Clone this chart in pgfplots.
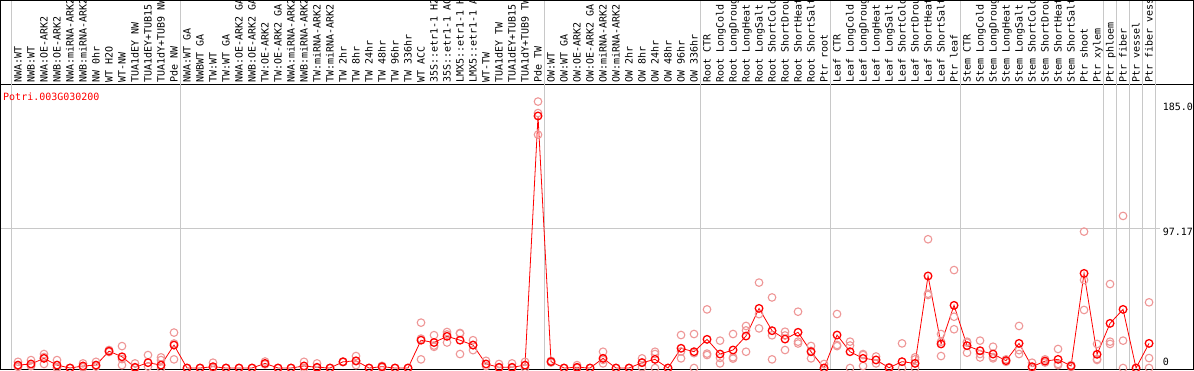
\documentclass[border=0pt]{standalone}
\usepackage{fontspec}
\setmainfont{Liberation Sans}
\setmonofont{DejaVu Sans Mono}
\usepackage{pgfplots}
\pgfplotsset{compat=1.18}
\usepackage{pgfplotstable}
\definecolor{repcol}{RGB}{238,150,150}
\definecolor{gridcol}{RGB}{200,200,200}
\newcommand{\lab}{\ttfamily\fontsize{10}{10}\selectfont}

\pgfplotstableread{
x y
0 2
1 2.8
2 6.7
3 2
4 0
5 1.4
6 2
7 11.7
8 7.8
9 0.5
10 3.7
11 2
12 15.9
13 0
14 0
15 0.9
16 0
17 0
18 0
19 3.2
20 0
21 0
22 1.4
23 0.5
24 0
25 4.3
26 5
27 0
28 0.9
29 0
30 0
31 19.3
32 17.7
33 22
34 19.3
35 15.9
36 2.8
37 0.5
38 0.5
39 2
40 175
41 4.4
42 0
43 0.5
44 0
45 6.7
46 0
47 0
48 3.7
49 6
50 0
51 13.7
52 11.3
53 19.9
54 9.7
55 12.5
56 22.2
57 41.4
58 25.9
59 20.1
60 24.8
61 11.3
62 0
63 22.9
64 11.3
65 6.7
66 5.6
67 0.2
68 4.4
69 3.2
70 63.9
71 16.7
72 43.5
73 15.5
74 12
75 9.7
76 5.1
77 17.1
78 0.9
79 4.8
80 6
81 1.4
82 65.7
83 9.5
84 31
85 40.7
86 0
87 17.1
}\means

\pgfplotstableread{
x y
0 4.3
0 0.8
0 1.0
1 5.5
1 1.5
1 1.4
2 9.7
2 2.8
2 7.6
3 5.5
3 0.5
3 0
4 0
5 3.2
5 0.5
6 4.3
6 1.0
7 12.5
7 11.1
8 15.2
8 2
8 6.2
9 3.2
9 0
10 9
10 1
11 7.4
11 5.5
11 0
12 24.6
12 6
12 17
13 0
14 0
15 3.7
15 0
16 0
17 0
18 0
19 4.5
19 2.5
20 0
21 0
22 4.3
22 0
23 3.2
23 0
24 0
25 4.5
25 4.1
26 8.3
26 2
26 4.7
27 0
28 1.5
28 0.3
29 0
30 0
31 31.5
31 6
31 20.4
32 22.8
32 14.7
32 15.6
33 25
33 17.7
33 23.3
34 23.9
34 9.7
34 24.3
35 19.3
35 12.4
35 16
36 5
36 1.4
37 2.8
37 0
38 3.2
38 0
39 4.3
39 1.7
39 0
40 185
40 162
40 177
41 5
41 3.8
42 0
43 2
43 0
44 0
45 11.3
45 3.2
45 5.6
46 0
47 0
48 6.7
48 0.5
48 4
49 11.3
49 9.7
49 0
50 0
51 22.9
51 6.7
51 11.5
52 23.6
52 0
52 10.3
53 40.7
53 9
53 10
54 19
54 3.2
54 7
55 23.6
55 7.4
55 6.5
56 29.2
56 11.3
56 26.1
57 59.3
57 27.5
57 37.4
58 49
58 6
58 22.7
59 25.2
59 12.5
59 22.6
60 39.1
60 18.3
60 17
61 15.3
61 6.7
61 11.9
62 2.8
62 0
63 37.5
63 16
63 15.2
64 18.3
64 0
64 15.6
65 9
65 1.4
65 9.7
66 3.2
66 8
67 0.5
67 0
68 17.1
68 0
69 7.4
69 6
69 0
70 89.4
70 50.7
70 51.6
71 23.6
71 8.3
71 18.2
72 68
72 35.6
72 26.9
73 18.3
73 10.6
73 17.6
74 19
74 9.7
74 7.3
75 14.8
75 6.7
75 7.6
76 6
76 4.3
77 29.2
77 9.7
77 12.4
78 3.7
78 0
79 6
79 3.8
80 13.2
80 2
80 2.8
81 2
81 0.7
82 94.7
82 61.1
82 40.3
83 16.7
83 5.6
83 6.2
84 58.3
84 18.3
84 16.7
85 105.6
85 19
85 0
86 0
87 45.6
87 6.9
87 0
}\reps

\begin{document}
\begin{tikzpicture}
\begin{axis}[
  at={(0,0)}, anchor=south west,
  scale only axis, width=1192pt, height=284pt,
  xmin=-1.3077, xmax=90.385, ymin=-0.69, ymax=196.5,
  axis line style={black, line width=1pt},
  clip=false,
  major tick length=0pt,
  ytick=\empty,
  xtick={0,...,87},
  xticklabel pos=upper,
  xticklabels={NWA:WT,NWB:WT,NWA:OE-ARK2,NWB:OE-ARK2,NWA:miRNA-ARK2,NWB:miRNA-ARK2,NW 0hr,WT H2O,WT-NW,TUA1dEY NW,TUA1dEY+TUB15,TUA1dY+TUB9 NW,Pde NW,NWA:WT GA,NWBWT GA,TW:WT,TW:WT GA,NWA:OE-ARK2 GA,NWB:OE-ARK2 GA,TW:OE-ARK2,TW:OE-ARK2 GA,NWA:miRNA-ARK2,NWB:miRNA-ARK2,TW:miRNA-ARK2,TW:miRNA-ARK2,TW 2hr,TW 8hr,TW 24hr,TW 48hr,TW 96hr,TW 336hr,WT ACC,35S::etr1-1 H2,35S::etr1-1 AC,LMX5::etr1-1 H,LMX5::etr1-1 A,WT-TW,TUA1dEY TW,TUA1dEY+TUB15,TUA1dY+TUB9 TW,Pde TW,OW:WT,OW:WT GA,OW:OE-ARK2,OW:OE-ARK2 GA,OW:miRNA-ARK2,OW:miRNA-ARK2,OW 2hr,OW 8hr,OW 24hr,OW 48hr,OW 96hr,OW 336hr,Root CTR,Root LongCold,Root LongDroug,Root LongHeat,Root LongSalt,Root ShortCold,Root ShortDrou,Root ShortHeat,Root ShortSalt,Ptr root,Leaf CTR,Leaf LongCold,Leaf LongDroug,Leaf LongHeat,Leaf LongSalt,Leaf ShortCold,Leaf ShortDrou,Leaf ShortHeat,Leaf ShortSalt,Ptr leaf,Stem CTR,Stem LongCold,Stem LongDroug,Stem LongHeat,Stem LongSalt,Stem ShortCold,Stem ShortDrou,Stem ShortHeat,Stem ShortSalt,Ptr shoot,Ptr xylem,Ptr phloem,Ptr fiber,Ptr vessel,Ptr fiber vess},
  xticklabel style={rotate=90, anchor=west, font=\lab, inner xsep=2pt, inner ysep=0pt, text height=7.5pt, text depth=0.5pt},
]
\foreach \g in {-0.5,12.5,40.5,52.5,62.5,72.5,83.5,84.5,85.5,86.5,87.5}{
  \edef\tmp{\noexpand\draw[gridcol, line width=1pt] (axis cs:\g,-0.69) -- (axis cs:\g,255.56);}\tmp
}
\draw[gridcol, line width=1pt] (axis cs:-1.3077,97.17) -- (axis cs:87.85,97.17);
\addplot[only marks, mark=o, mark size=3.8pt, mark options={draw=repcol, line width=1.1pt}] table[x=x,y=y]{\reps};
\addplot[red, line width=0.8pt, mark=o, mark size=3.8pt, mark options={draw=red, line width=1.3pt}] table[x=x,y=y]{\means};
\node[anchor=west, font=\lab, inner sep=0pt] at (axis cs:88.05,181.3) {185.0};
\node[anchor=west, font=\lab, inner sep=0pt] at (axis cs:88.05,94.4) {97.17};
\node[anchor=west, font=\lab, inner sep=0pt] at (axis cs:88.05,4.2) {0};
\end{axis}
\node[anchor=west, font=\lab, text=red, inner sep=0pt] at (2pt,272pt) {Potri.003G030200};
\draw[black, line width=1pt] (0,284pt) -- (0,368.5pt) -- (1192pt,368.5pt) -- (1192pt,284pt);
\pgfresetboundingbox
\path (-1pt,-1pt) rectangle (1193pt,369pt);
\end{tikzpicture}
\end{document}
